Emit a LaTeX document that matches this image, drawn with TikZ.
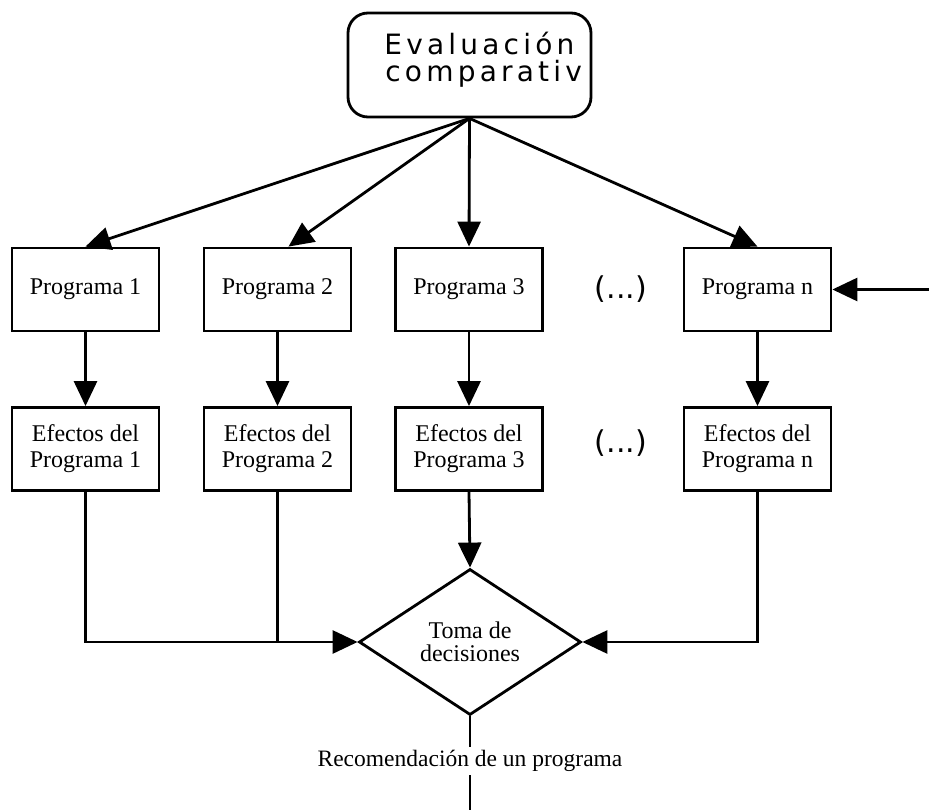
\documentclass[tikz,border=0pt]{standalone}
\usepackage{fontspec}
\setmainfont{Liberation Serif}
\newfontfamily\headfont[LetterSpace=15]{DejaVu Sans}
\newfontfamily\dotsfont{DejaVu Sans}
\usetikzlibrary{arrows.meta,shapes.geometric,calc}
\begin{document}
\begin{tikzpicture}[x=1pt,y=-1pt,
  line width=2.8pt,
  prog/.style={draw,rectangle,minimum width=147pt,minimum height=83pt,
    inner sep=0pt,align=center,font=\fontsize{24}{26}\selectfont},
  arr/.style={-{Triangle[length=25pt,width=23pt]}},
  gap/.style={font=\dotsfont\fontsize{30}{30}\selectfont,inner sep=0pt},
  titletext/.style={anchor=base west,inner sep=0pt,font=\headfont\fontsize{28}{28}\selectfont},
  label/.style={font=\fontsize{23.5}{26}\selectfont,fill=white,inner sep=3pt}
]
\useasboundingbox (0,0) rectangle (929,810);

% title box, its text cut off at the right border
\node[draw,rounded corners=20pt,minimum width=243pt,minimum height=104pt,inner sep=0pt]
  (top) at (469.5,65) {};
\begin{scope}
  \clip (350,15) rectangle (590,115);
  \node[titletext] (title1) at (383,55) {Evaluación};
  \node[titletext] (title2) at (384,82) {comparativ};
\end{scope}

% programmes
\node[prog] (p1) at (85.5,289.5) {Programa 1};
\node[prog] (p2) at (277.5,289.5) {Programa 2};
\node[prog] (p3) at (469,289.5) {Programa 3};
\node[prog] (pn) at (757.5,289.5) {Programa n};
\node[gap] (g1) at (621,289) {(...)};

% effects
\node[prog] (e1) at (85.5,449) {Efectos del\\Programa 1};
\node[prog] (e2) at (277.5,449) {Efectos del\\Programa 2};
\node[prog] (e3) at (469,449) {Efectos del\\Programa 3};
\node[prog] (en) at (757.5,449) {Efectos del\\Programa n};
\node[gap] (g2) at (621,443) {(...)};

% decision
\node[draw,diamond,minimum width=222pt,minimum height=146pt,inner sep=0pt,
  align=center,font=\fontsize{24}{23}\selectfont] (dec) at (470,642)
  {Toma de\\decisiones};

% connectors
\draw[arr] (top.south) -- (p1.north);
\draw[arr] (top.south) -- ($(p2.north)+(11,0)$);
\draw[arr] (top.south) -- (p3.north);
\draw[arr] (top.south) -- (pn.north);
\foreach \i in {1,2,3,n} \draw[arr] (p\i.south) -- (e\i.north);
\coordinate (ext) at (929,289.5);
\draw[arr] (ext) -- (pn.east);

\draw[arr] (e1.south) |- (dec.west);
\draw (e2.south) -- (e2.south |- dec.west);
\draw[arr] (e3.south) -- (dec.north);
\draw[arr] (en.south) |- (dec.east);

\coordinate (out) at (470,810);
\draw (dec.south) -- (out);
\node[label] (rec) at (470,761) {Recomendación de un programa};
\end{tikzpicture}
\end{document}
